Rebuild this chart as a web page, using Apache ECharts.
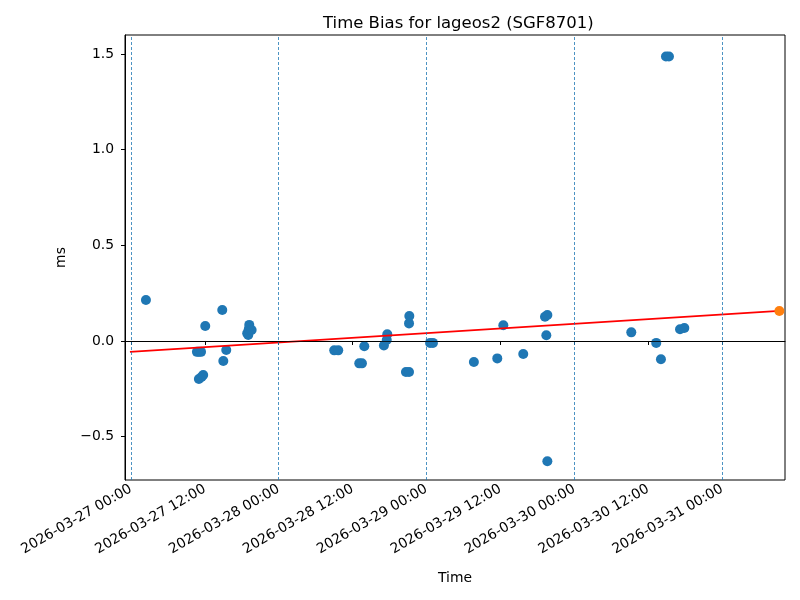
<!DOCTYPE html>
<html>
<head>
<meta charset="utf-8">
<script src="https://cdn.jsdelivr.net/npm/echarts@6/dist/echarts.min.js"></script>
<style>html,body{margin:0;padding:0;background:#fff}#c{width:800px;height:600px}</style>
</head>
<body>
<div id="c"></div>
<script>
const times = [
  '2026-03-27 02:26','2026-03-27 10:43','2026-03-27 11:02','2026-03-27 11:23',
  '2026-03-27 11:02','2026-03-27 11:28','2026-03-27 11:44','2026-03-27 12:04',
  '2026-03-27 14:50','2026-03-27 15:00','2026-03-27 15:29','2026-03-27 18:53',
  '2026-03-27 19:03','2026-03-27 19:08','2026-03-27 19:13','2026-03-27 19:36',
  '2026-03-28 09:01','2026-03-28 09:40','2026-03-28 13:05','2026-03-28 13:31',
  '2026-03-28 13:54','2026-03-28 17:05','2026-03-28 17:33','2026-03-28 17:38',
  '2026-03-28 20:40','2026-03-28 21:10','2026-03-28 21:10','2026-03-28 21:13',
  '2026-03-29 00:35','2026-03-29 01:03','2026-03-29 07:42','2026-03-29 11:30',
  '2026-03-29 12:29','2026-03-29 15:43','2026-03-29 19:15','2026-03-29 19:38',
  '2026-03-29 19:28','2026-03-29 19:38','2026-03-30 09:16','2026-03-30 13:19',
  '2026-03-30 14:05','2026-03-30 14:54','2026-03-30 15:23','2026-03-30 17:11',
  '2026-03-30 17:53'
];
const biasMs = [
  0.214,-0.057,-0.057,-0.057,
  -0.199,-0.188,-0.178,0.078,
  0.162,-0.105,-0.047,0.040,
  0.031,0.061,0.084,0.057,
  -0.049,-0.049,-0.117,-0.117,
  -0.028,-0.024,0.005,0.035,
  -0.162,-0.162,0.092,0.131,
  -0.010,-0.010,-0.110,-0.091,
  0.082,-0.068,0.127,0.136,
  0.030,-0.629,0.045,-0.010,
  -0.096,1.488,1.488,0.061,
  0.068
];
const predTime = ['2026-03-31 09:19'];
const predMs = [0.157];
const fitTimes = ['2026-03-26 23:50','2026-03-31 09:19'];
const fitMs = [-0.057, 0.157];
const dayLines = ['2026-03-27 00:00','2026-03-28 00:00','2026-03-29 00:00','2026-03-30 00:00','2026-03-31 00:00'];
const xTicks = ['2026-03-27 00:00','2026-03-27 12:00','2026-03-28 00:00','2026-03-28 12:00','2026-03-29 00:00',
  '2026-03-29 12:00','2026-03-30 00:00','2026-03-30 12:00','2026-03-31 00:00'];
const yTicks = [-0.5, 0.0, 0.5, 1.0, 1.5];
const xMin = '2026-03-26 23:02';
const xMax = '2026-03-31 10:14';
const yMin = -0.727, yMax = 1.6;

const F = 'DejaVu Sans';
const toMs = s => echarts.time.parse(s).getTime();
const xTickVals = xTicks.map(toMs);
const chart = echarts.init(document.getElementById('c'), null, {renderer: 'canvas'});
chart.setOption({
  animation: false,
  backgroundColor: '#fff',
  title: {
    text: 'Time Bias for lageos2 (SGF8701)',
    left: 318, top: 10,
    textStyle: {fontFamily: F, fontSize: 16.5, fontWeight: 'normal', color: '#000'}
  },
  grid: {left: 125, right: 15, top: 35, bottom: 120, show: true, borderColor: '#000', borderWidth: 1, backgroundColor: 'transparent'},
  xAxis: {
    type: 'value', min: toMs(xMin), max: toMs(xMax),
    name: 'Time', nameLocation: 'middle', nameGap: 91,
    nameTextStyle: {fontFamily: F, fontSize: 13.9, color: '#000'},
    axisLine: {show: true, lineStyle: {color: '#000', width: 1}},
    axisTick: {show: true, length: 4, lineStyle: {color: '#000'}, customValues: xTickVals},
    splitLine: {show: false},
    axisLabel: {
      rotate: 30, fontFamily: F, fontSize: 13.9, color: '#000', margin: 8,
      hideOverlap: false,
      customValues: xTickVals,
      formatter: v => echarts.time.format(v, '{yyyy}-{MM}-{dd} {HH}:{mm}', false)
    }
  },
  yAxis: {
    type: 'value', min: yMin, max: yMax,
    name: 'ms', nameLocation: 'middle', nameGap: 57, nameMoveOverlap: false,
    nameTextStyle: {fontFamily: F, fontSize: 13.9, color: '#000'},
    axisLine: {show: true, lineStyle: {color: '#000', width: 1}},
    axisTick: {show: true, length: 4, lineStyle: {color: '#000'}, customValues: yTicks},
    splitLine: {show: false},
    axisLabel: {
      fontFamily: F, fontSize: 13.9, color: '#000', margin: 11,
      customValues: yTicks,
      formatter: v => v.toFixed(1).replace('-', '\u2212')
    }
  },
  series: [
    {
      type: 'line', data: [], silent: true,
      markLine: {
        silent: true, symbol: 'none', label: {show: false},
        lineStyle: {color: '#1f77b4', type: [3, 2], width: 0.8},
        data: dayLines.map(t => ({xAxis: toMs(t)}))
      }
    },
    {
      type: 'line', data: [], silent: true,
      markLine: {
        silent: true, symbol: 'none', label: {show: false},
        lineStyle: {color: '#000', type: 'solid', width: 0.8},
        data: [{yAxis: 0}]
      }
    },
    {
      type: 'scatter', symbolSize: 10, z: 3,
      itemStyle: {color: '#1f77b4', opacity: 1},
      data: times.map((t, i) => [toMs(t), biasMs[i]])
    },
    {
      type: 'line', symbol: 'none', z: 4,
      lineStyle: {color: '#ff0000', width: 1.8},
      data: fitTimes.map((t, i) => [toMs(t), fitMs[i]])
    },
    {
      type: 'scatter', symbolSize: 10, z: 5,
      itemStyle: {color: '#ff7f0e', opacity: 1},
      data: predTime.map((t, i) => [toMs(t), predMs[i]])
    }
  ]
});
</script>
</body>
</html>
